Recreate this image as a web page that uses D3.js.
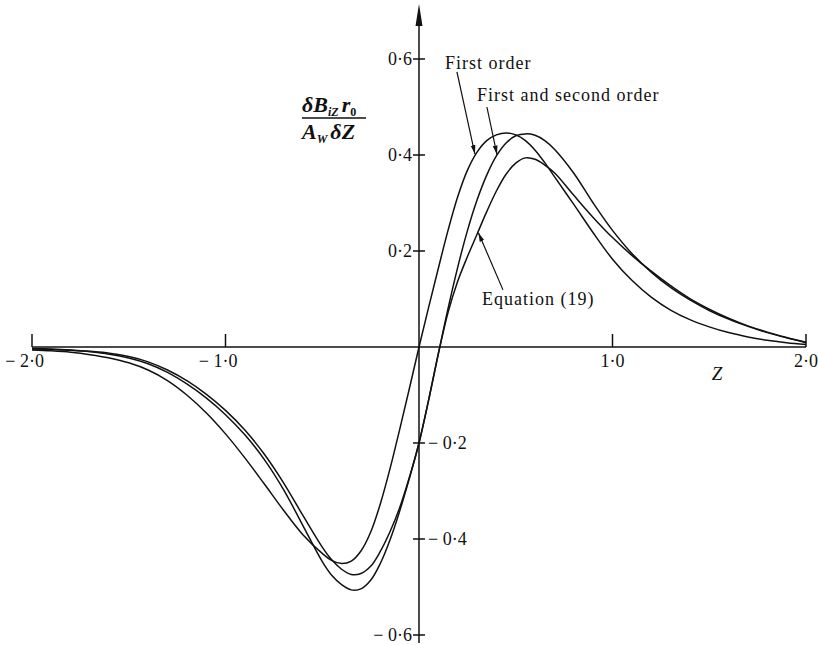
<!DOCTYPE html>
<html>
<head>
<meta charset="utf-8">
<script src="https://cdn.jsdelivr.net/npm/d3@7"></script>
<style>
  body { margin: 0; background: #fff; }
  svg { display: block; }
  text { font-family: "Liberation Serif", "Times New Roman", serif; fill: #111; }
</style>
</head>
<body>
<div id="chart"></div>
<script>
// DATA //

// Z positions shared by the three curves
var zValues = [-2.0, -1.9, -1.8, -1.7, -1.6, -1.5, -1.4, -1.3, -1.2, -1.1, -1.0, -0.9, -0.8, -0.7, -0.6, -0.5,
  -0.45, -0.4, -0.35, -0.3, -0.25, -0.2, -0.15, -0.1, -0.05, 0, 0.05, 0.1, 0.15, 0.2, 0.25, 0.3, 0.35, 0.4,
  0.45, 0.5, 0.55, 0.6, 0.65, 0.7, 0.8, 0.9, 1.0, 1.1, 1.2, 1.3, 1.4, 1.5, 1.6, 1.7, 1.8, 1.9, 2.0];

var firstOrder = [-0.006, -0.008, -0.011, -0.016, -0.023, -0.033, -0.048, -0.070, -0.100, -0.137, -0.181, -0.231, -0.285, -0.340, -0.391, -0.430,
  -0.445, -0.451, -0.446, -0.425, -0.386, -0.327, -0.254, -0.172, -0.087, 0, 0.083, 0.164, 0.243, 0.313, 0.368, 0.406, 0.430, 0.442,
  0.446, 0.442, 0.430, 0.410, 0.384, 0.355, 0.297, 0.238, 0.183, 0.139, 0.104, 0.077, 0.057, 0.042, 0.030, 0.021, 0.014, 0.009, 0.005];

var firstSecondOrder = [-0.003, -0.004, -0.006, -0.009, -0.013, -0.020, -0.031, -0.048, -0.070, -0.098, -0.132, -0.173, -0.223, -0.283, -0.351, -0.417,
  -0.444, -0.463, -0.474, -0.472, -0.457, -0.426, -0.385, -0.335, -0.272, -0.200, -0.110, -0.014, 0.080, 0.166, 0.242, 0.306, 0.358, 0.398,
  0.425, 0.440, 0.444, 0.441, 0.430, 0.412, 0.362, 0.300, 0.243, 0.195, 0.156, 0.124, 0.098, 0.076, 0.058, 0.043, 0.030, 0.019, 0.009];

var equation19 = [-0.004, -0.005, -0.007, -0.010, -0.015, -0.023, -0.035, -0.053, -0.077, -0.106, -0.141, -0.183, -0.234, -0.297, -0.372, -0.447,
  -0.476, -0.495, -0.506, -0.504, -0.486, -0.451, -0.402, -0.342, -0.274, -0.200, -0.110, -0.014, 0.072, 0.137, 0.188, 0.235, 0.282, 0.325,
  0.360, 0.383, 0.394, 0.391, 0.379, 0.363, 0.316, 0.270, 0.228, 0.191, 0.158, 0.128, 0.101, 0.079, 0.060, 0.044, 0.031, 0.020, 0.010];

var xTicks = [-2, -1, 1, 2];
var yTicks = [-0.6, -0.4, -0.2, 0.2, 0.4, 0.6];

// annotation text and arrows, in data units
var seriesLabels = ["First order", "First and second order", "Equation (19)"];
var labelAt = [[0.134, 0.579], [0.30, 0.512], [0.326, 0.088]];
var arrowFrom = [[0.196, 0.573], [0.351, 0.500], [0.434, 0.119]];
var arrowTo = [[0.289, 0.402], [0.403, 0.401], [0.307, 0.238]];

// CHART //

var w = 818, h = 645;

var svg = d3.select("#chart")
  .append("svg")
  .attr("width", w)
  .attr("height", h);

var x = d3.scaleLinear().domain([-2, 2]).range([32, 806]);
var y = d3.scaleLinear().domain([-0.6, 0.6]).range([635, 59]);

var fmt = function (v) {
  return Math.abs(v).toFixed(1).replace(".", "\u00b7");
};

svg.append("defs").append("marker")
  .attr("id", "tip")
  .attr("markerUnits", "userSpaceOnUse")
  .attr("markerWidth", 10)
  .attr("markerHeight", 6)
  .attr("refX", 9)
  .attr("refY", 3)
  .attr("orient", "auto")
  .append("path")
  .attr("d", "M0,0.6L9,3L0,5.4Z")
  .style("fill", "#111");

// horizontal axis with ticks pointing up
svg.append("line")
  .attr("x1", x(-2)).attr("x2", x(2))
  .attr("y1", y(0)).attr("y2", y(0))
  .style("stroke", "#111").style("stroke-width", 1.5);

svg.append("g").selectAll("line")
  .data(xTicks)
  .enter().append("line")
  .attr("x1", d => x(d)).attr("x2", d => x(d))
  .attr("y1", y(0)).attr("y2", y(0) - 13)
  .style("stroke", "#111").style("stroke-width", 1.5);

svg.append("g").selectAll("text")
  .data(xTicks)
  .enter().append("text")
  .attr("x", d => x(d) + 12)
  .attr("y", y(0) + 20)
  .attr("text-anchor", "end")
  .style("font-size", "18px")
  .text(d => (d < 0 ? "\u2212 " : "") + fmt(d));

svg.append("text")
  .attr("x", x(1.54))
  .attr("y", y(0) + 33)
  .attr("text-anchor", "middle")
  .style("font-size", "19px")
  .style("font-style", "italic")
  .text("Z");

// vertical axis with arrow at the top
svg.append("line")
  .attr("x1", x(0)).attr("x2", x(0))
  .attr("y1", y(-0.6) + 8).attr("y2", 22)
  .style("stroke", "#111").style("stroke-width", 1.5);

svg.append("path")
  .attr("d", "M" + x(0) + ",4L" + (x(0) + 3.5) + ",26L" + (x(0) - 3.5) + ",26Z")
  .style("fill", "#111");

svg.append("g").selectAll("line")
  .data(yTicks)
  .enter().append("line")
  .attr("x1", x(0) - 6).attr("x2", x(0) + 6)
  .attr("y1", d => y(d)).attr("y2", d => y(d))
  .style("stroke", "#111").style("stroke-width", 1.5);

svg.append("g").selectAll("text")
  .data(yTicks)
  .enter().append("text")
  .attr("x", d => (d > 0 || d === -0.6) ? x(0) - 7 : x(0) + 9)
  .attr("y", d => y(d) + 6)
  .attr("text-anchor", d => (d > 0 || d === -0.6) ? "end" : "start")
  .style("font-size", "18px")
  .text(d => (d < 0 ? "\u2212 " : "") + fmt(d));

// y label as a fraction
var yl = svg.append("g")
  .style("font-style", "italic")
  .style("font-weight", "bold");

var num = yl.append("text").attr("x", 302).attr("y", 112).style("font-size", "22px");
num.append("tspan").text("\u03b4B");
num.append("tspan").attr("dy", 4).style("font-size", "12px").text("iZ");
num.append("tspan").attr("dy", -4).attr("dx", 3).text("r");
num.append("tspan").attr("dy", 4).style("font-size", "12px").style("font-style", "normal").text("0");

yl.append("line")
  .attr("x1", 302).attr("x2", 366)
  .attr("y1", 118).attr("y2", 118)
  .style("stroke", "#111").style("stroke-width", 1.4);

var den = yl.append("text").attr("x", 302).attr("y", 139).style("font-size", "22px");
den.append("tspan").text("A");
den.append("tspan").attr("dy", 4).style("font-size", "12px").text("W");
den.append("tspan").attr("dy", -4).attr("dx", 3).text("\u03b4Z");

// the three curves
var line = d3.line()
  .x((d, i) => x(zValues[i]))
  .y(d => y(d))
  .curve(d3.curveCatmullRom.alpha(0.5));

svg.append("g").selectAll("path")
  .data([firstOrder, firstSecondOrder, equation19])
  .enter().append("path")
  .attr("d", line)
  .style("fill", "none")
  .style("stroke", "#111")
  .style("stroke-width", 1.5);

// labels with arrows
svg.append("g").selectAll("text")
  .data(seriesLabels)
  .enter().append("text")
  .attr("x", (d, i) => x(labelAt[i][0]))
  .attr("y", (d, i) => y(labelAt[i][1]))
  .style("font-size", "18px")
  .style("letter-spacing", "1px")
  .text(d => d);

svg.append("g").selectAll("line")
  .data(seriesLabels)
  .enter().append("line")
  .attr("x1", (d, i) => x(arrowFrom[i][0]))
  .attr("y1", (d, i) => y(arrowFrom[i][1]))
  .attr("x2", (d, i) => x(arrowTo[i][0]))
  .attr("y2", (d, i) => y(arrowTo[i][1]))
  .attr("marker-end", "url(#tip)")
  .style("stroke", "#111")
  .style("stroke-width", 1.2);
</script>
</body>
</html>
